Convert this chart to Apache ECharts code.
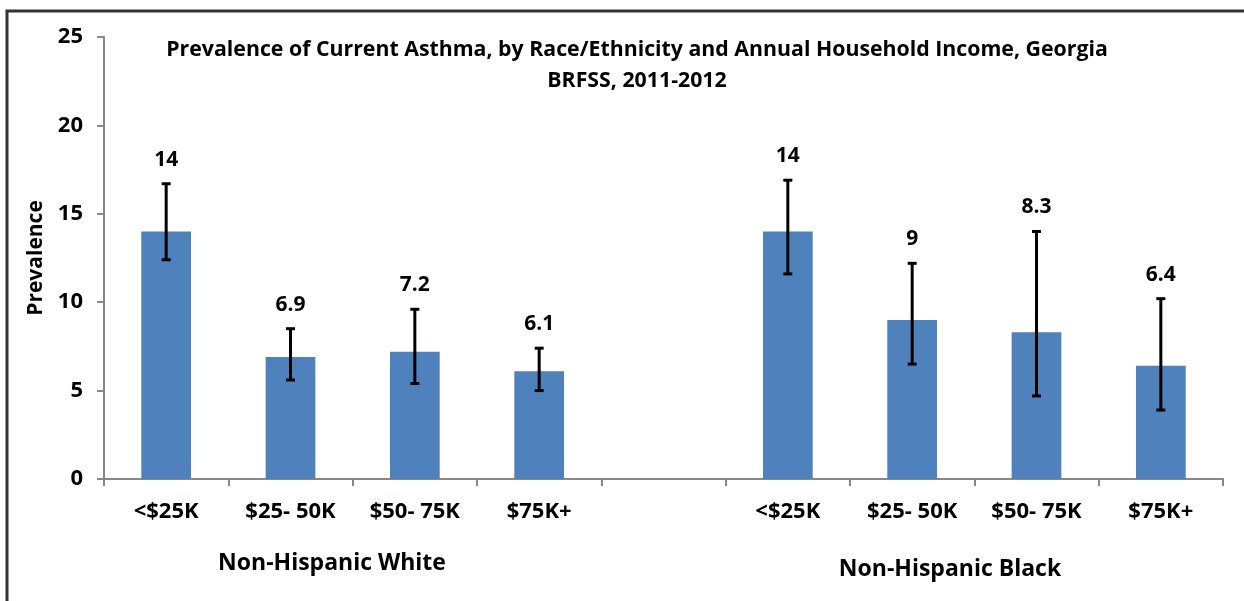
<!DOCTYPE html>
<html>
<head>
<meta charset="utf-8">
<script src="https://cdn.jsdelivr.net/npm/echarts@6/dist/echarts.min.js"></script>
<style>
  html, body { margin: 0; padding: 0; background: #fff; }
  #chart { width: 1244px; height: 601px; }
</style>
</head>
<body>
<div id="chart"></div>
<script>
// data
var incomeLevels = ['<$25K', '$25- 50K', '$50- 75K', '$75K+'];
var groups = ['Non-Hispanic White', 'Non-Hispanic Black'];
var whiteValues = [14, 6.9, 7.2, 6.1];
var whiteLow = [12.4, 5.6, 5.4, 5.0];
var whiteHigh = [16.7, 8.5, 9.6, 7.4];
var blackValues = [14, 9, 8.3, 6.4];
var blackLow = [11.6, 6.5, 4.7, 3.9];
var blackHigh = [16.9, 12.2, 14.0, 10.2];
var yTicks = [0, 5, 10, 15, 20, 25];

var FONT = 'Open Sans';
var blue = '#4F81BD';

// 9 slots: 4 white, one empty gap, 4 black
var categories = incomeLevels.concat(['']).concat(incomeLevels);
var barData = whiteValues.concat(['-']).concat(blackValues);
var errData = [];
for (var i = 0; i < 4; i++) {
  errData.push([i, whiteLow[i], whiteHigh[i], whiteValues[i]]);
  errData.push([i + 5, blackLow[i], blackHigh[i], blackValues[i]]);
}

var chart = echarts.init(document.getElementById('chart'));

var option = {
  animation: false,
  backgroundColor: '#fff',
  title: {
    text: 'Prevalence of Current Asthma, by Race/Ethnicity and Annual Household Income, Georgia\nBRFSS, 2011-2012',
    left: 632,
    top: 29,
    textAlign: 'center',
    textStyle: {
      fontFamily: FONT,
      fontWeight: 'bold',
      fontSize: 21.3,
      lineHeight: 31,
      color: '#000'
    }
  },
  grid: {
    left: 104,
    right: 21,
    top: 37,
    bottom: 122
  },
  xAxis: {
    type: 'category',
    data: categories,
    axisLine: { lineStyle: { color: '#888', width: 2 } },
    axisTick: { show: true, length: 7, lineStyle: { color: '#888', width: 2 } },
    axisLabel: {
      margin: 22,
      fontFamily: FONT,
      fontWeight: 'bold',
      fontSize: 22,
      color: '#000'
    }
  },
  yAxis: {
    type: 'value',
    min: yTicks[0],
    max: yTicks[yTicks.length - 1],
    interval: 5,
    name: 'Prevalence',
    nameLocation: 'middle',
    nameGap: 57,
    nameRotate: 90,
    nameTextStyle: {
      fontFamily: FONT,
      fontWeight: 'bold',
      fontSize: 21,
      color: '#000'
    },
    splitLine: { show: false },
    axisLine: { show: true, lineStyle: { color: '#888', width: 2 } },
    axisTick: { show: true, length: 7, lineStyle: { color: '#888', width: 2 } },
    axisLabel: {
      margin: 21,
      fontFamily: FONT,
      fontWeight: 'bold',
      fontSize: 22,
      color: '#000'
    }
  },
  graphic: [
    {
      type: 'polyline',
      shape: { points: [[7, 601], [7, 11], [1244, 11]] },
      style: { stroke: '#333', lineWidth: 3, fill: null },
      silent: true
    },
    {
      type: 'text',
      x: 332, y: 563,
      style: {
        text: groups[0], fontFamily: FONT, fontWeight: 'bold', fontSize: 23,
        fill: '#000', align: 'center', verticalAlign: 'middle'
      }
    },
    {
      type: 'text',
      x: 950, y: 569,
      style: {
        text: groups[1], fontFamily: FONT, fontWeight: 'bold', fontSize: 23,
        fill: '#000', align: 'center', verticalAlign: 'middle'
      }
    }
  ],
  series: [
    {
      type: 'bar',
      data: barData,
      barWidth: '40%',
      itemStyle: { color: blue }
    },
    {
      type: 'custom',
      data: errData,
      z: 10,
      renderItem: function (params, api) {
        var x = api.value(0);
        var lo = api.coord([x, api.value(1)]);
        var hi = api.coord([x, api.value(2)]);
        var cap = 4.5;
        var st = { stroke: '#000', lineWidth: 3 };
        return {
          type: 'group',
          children: [
            { type: 'line', shape: { x1: hi[0], y1: hi[1], x2: lo[0], y2: lo[1] }, style: st },
            { type: 'line', shape: { x1: hi[0] - cap, y1: hi[1], x2: hi[0] + cap, y2: hi[1] }, style: st },
            { type: 'line', shape: { x1: lo[0] - cap, y1: lo[1], x2: lo[0] + cap, y2: lo[1] }, style: st },
            {
              type: 'text',
              x: hi[0], y: hi[1] - 24,
              style: {
                text: String(api.value(3)),
                fontFamily: FONT, fontWeight: 'bold', fontSize: 21,
                fill: '#000', align: 'center', verticalAlign: 'middle'
              }
            }
          ]
        };
      }
    }
  ]
};

chart.setOption(option);
window.addEventListener('resize', function () {
  chart.resize();
});
</script>
</body>
</html>
